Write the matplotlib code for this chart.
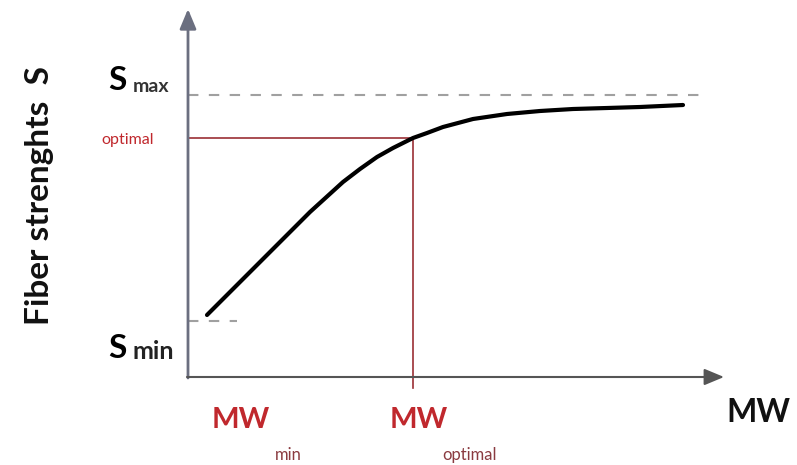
import matplotlib.pyplot as plt

# curve (pixel-like units, y grows downward)
mw = [207, 232, 257, 280, 310, 343, 360, 377, 393, 413, 427, 443, 473,
      507, 540, 573, 607, 640, 683]
strength = [315, 290, 265, 242, 212, 182, 169, 157, 148, 138, 133, 127, 119,
            114, 111, 109, 108, 107, 105]

s_max = 95
s_min = 321
s_opt = 138
mw_opt = 413

ORIGIN_X, ORIGIN_Y = 188, 377
RED = '#c0282d'

plt.rcParams['font.family'] = ['Lato', 'DejaVu Sans']

fig = plt.figure(figsize=(7.97, 4.65), dpi=100)
ax = fig.add_axes([0, 0, 1, 1])
ax.set_xlim(0, 797)
ax.set_ylim(465, 0)
ax.axis('off')

# axes with arrows
ax.annotate('', xy=(ORIGIN_X, 9), xytext=(ORIGIN_X, ORIGIN_Y + 1),
            arrowprops=dict(arrowstyle='-|>,head_width=0.5,head_length=1.2',
                            color='#6b6f80', lw=2, shrinkA=0, shrinkB=0))
ax.annotate('', xy=(724, ORIGIN_Y), xytext=(ORIGIN_X - 1, ORIGIN_Y),
            arrowprops=dict(arrowstyle='-|>,head_width=0.5,head_length=1.2',
                            color='#555555', lw=1.5, shrinkA=0, shrinkB=0))

# reference lines
ax.plot([ORIGIN_X, 700], [s_max, s_max], ls=(0, (5, 5)), color='#a0a0a0', lw=1.5)
ax.plot([ORIGIN_X, 237], [s_min, s_min], ls=(0, (5, 5)), color='#a0a0a0', lw=1.5)
ax.plot([ORIGIN_X, mw_opt], [s_opt, s_opt], color='#9b2f35', lw=1.2)
ax.plot([mw_opt, mw_opt], [s_opt, 388], color='#9b2f35', lw=1.2)

# curve
ax.plot(mw, strength, color='black', lw=3, solid_capstyle='round',
        solid_joinstyle='round')

# labels
ax.text(40, 195, 'Fiber strenghts  S', rotation=90, ha='center', va='center',
        fontsize=24, fontweight='bold', color='#111111')
ax.text(108, 80, 'S', fontsize=24, fontweight='bold', va='center')
ax.text(133, 86, 'max', fontsize=14, fontweight='bold', va='center', color='#333333')
ax.text(108, 348, 'S', fontsize=24, fontweight='bold', va='center')
ax.text(133, 351, 'min', fontsize=18, fontweight='bold', va='center', color='#222222')
ax.text(128, 140, 'optimal', fontsize=11.5, ha='center', va='center', color=RED)

ax.text(241, 420, 'MW', fontsize=21, fontweight='bold', ha='center', va='center', color=RED)
ax.text(288, 455, 'min', fontsize=12, ha='center', va='center', color='#8a3b40')
ax.text(419, 420, 'MW', fontsize=21, fontweight='bold', ha='center', va='center', color=RED)
ax.text(470, 455, 'optimal', fontsize=12, ha='center', va='center', color='#8a3b40')
ax.text(758, 412, 'MW', fontsize=23, fontweight='bold', ha='center', va='center', color='#111111')

fig.savefig('out.png', dpi=100)
